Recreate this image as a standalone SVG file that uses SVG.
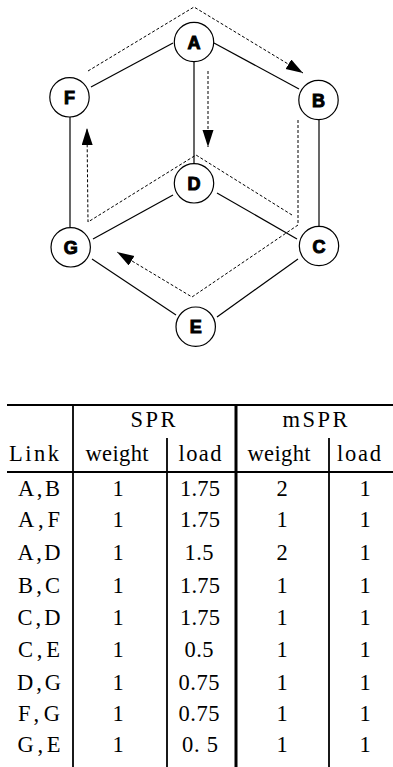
<svg xmlns="http://www.w3.org/2000/svg" width="393" height="767" viewBox="0 0 393 767">
<style>
.edge{stroke:#000;stroke-width:1.2;fill:none}
.dash{stroke:#000;stroke-width:1;fill:none;stroke-dasharray:3,2}
.node circle{fill:#fff;stroke:#000;stroke-width:1.2}
.node text{font-family:"Liberation Sans",Arial,sans-serif;font-weight:900;font-size:18px;fill:#000;stroke:#000;stroke-width:1;text-anchor:middle}
.t{font-family:"Liberation Serif","Times New Roman",serif;font-size:22.5px;fill:#000;text-anchor:middle}
.rule{stroke:#000;fill:none}
</style>
<defs>
<marker id="arr" markerUnits="userSpaceOnUse" markerWidth="18" markerHeight="12" refX="17" refY="5.5" orient="auto">
<path d="M0,0 L17,5.5 L0,11 z" fill="#000"/>
</marker>
</defs>
<rect width="393" height="767" fill="#fff"/>
<g id="connectors">
<line class="edge" x1="173" y1="43" x2="91" y2="87"/>
<line class="edge" x1="214" y1="43" x2="299" y2="89"/>
<line class="edge" x1="194" y1="62" x2="194" y2="163"/>
<line class="edge" x1="70" y1="117" x2="70" y2="227"/>
<line class="edge" x1="319" y1="120" x2="319" y2="226"/>
<line class="edge" x1="173" y1="195" x2="93" y2="239"/>
<line class="edge" x1="217" y1="193" x2="297" y2="239"/>
<line class="edge" x1="92" y1="259" x2="176" y2="315"/>
<line class="edge" x1="298" y1="259" x2="217" y2="317"/>
<path class="dash" d="M88,71 L194,7 L303,73" marker-end="url(#arr)"/>
<path class="dash" d="M208,71 L208,147" marker-end="url(#arr)"/>
<path class="dash" d="M292,215 L196,155 L88,222 L87,128" marker-end="url(#arr)"/>
<path class="dash" d="M298,120 L298,225 L192,297 L117,252" marker-end="url(#arr)"/>
</g>
<g id="node-A" class="node"><circle cx="194" cy="42" r="19.7"/><text x="194" y="48.5">A</text></g>
<g id="node-F" class="node"><circle cx="69.5" cy="97.3" r="19.7"/><text x="69.5" y="103.8">F</text></g>
<g id="node-B" class="node"><circle cx="318.5" cy="100" r="19.7"/><text x="318.5" y="106.5">B</text></g>
<g id="node-D" class="node"><circle cx="194" cy="183.3" r="19.7"/><text x="194" y="189.8">D</text></g>
<g id="node-G" class="node"><circle cx="70.7" cy="247.3" r="19.7"/><text x="70.7" y="253.8">G</text></g>
<g id="node-C" class="node"><circle cx="319" cy="246" r="19.7"/><text x="319" y="252.5">C</text></g>
<g id="node-E" class="node"><circle cx="195.7" cy="326.7" r="19.7"/><text x="195.7" y="333.2">E</text></g>
<g id="table">
<line class="rule" x1="7" y1="405" x2="393" y2="405" stroke-width="2"/>
<line class="rule" x1="7" y1="472" x2="393" y2="472" stroke-width="2"/>
<line class="rule" x1="73" y1="405" x2="73" y2="767" stroke-width="1.8"/>
<line class="rule" x1="167" y1="438" x2="167" y2="767" stroke-width="1.8"/>
<line class="rule" x1="236" y1="405" x2="236" y2="767" stroke-width="3"/>
<line class="rule" x1="329" y1="438" x2="329" y2="767" stroke-width="1.8"/>
<text class="t" x="153" y="427" textLength="45" lengthAdjust="spacing">SPR</text>
<text class="t" x="315" y="427" textLength="65" lengthAdjust="spacing">mSPR</text>
<text class="t" x="34" y="461" textLength="50" lengthAdjust="spacing">Link</text>
<text class="t" x="117" y="461" textLength="63" lengthAdjust="spacing">weight</text>
<text class="t" x="200" y="461" textLength="43" lengthAdjust="spacing">load</text>
<text class="t" x="279" y="461" textLength="63" lengthAdjust="spacing">weight</text>
<text class="t" x="359" y="461" textLength="44" lengthAdjust="spacing">load</text>
<g id="rows">
<text class="t" x="39" y="496" textLength="42" lengthAdjust="spacing">A,B</text><text class="t" x="118" y="496">1</text><text class="t" x="200" y="496" textLength="40" lengthAdjust="spacing">1.75</text><text class="t" x="282" y="496">2</text><text class="t" x="365" y="496">1</text>
<text class="t" x="39" y="527" textLength="42" lengthAdjust="spacing">A,F</text><text class="t" x="118" y="527">1</text><text class="t" x="200" y="527" textLength="40" lengthAdjust="spacing">1.75</text><text class="t" x="282" y="527">1</text><text class="t" x="365" y="527">1</text>
<text class="t" x="39" y="560" textLength="43" lengthAdjust="spacing">A,D</text><text class="t" x="118" y="560">1</text><text class="t" x="199" y="560" textLength="29" lengthAdjust="spacing">1.5</text><text class="t" x="282" y="560">2</text><text class="t" x="365" y="560">1</text>
<text class="t" x="39" y="593" textLength="42" lengthAdjust="spacing">B,C</text><text class="t" x="118" y="593">1</text><text class="t" x="200" y="593" textLength="40" lengthAdjust="spacing">1.75</text><text class="t" x="282" y="593">1</text><text class="t" x="365" y="593">1</text>
<text class="t" x="39" y="625" textLength="43" lengthAdjust="spacing">C,D</text><text class="t" x="118" y="625">1</text><text class="t" x="200" y="625" textLength="40" lengthAdjust="spacing">1.75</text><text class="t" x="282" y="625">1</text><text class="t" x="365" y="625">1</text>
<text class="t" x="39" y="657" textLength="42" lengthAdjust="spacing">C,E</text><text class="t" x="118" y="657">1</text><text class="t" x="199" y="657" textLength="29" lengthAdjust="spacing">0.5</text><text class="t" x="282" y="657">1</text><text class="t" x="365" y="657">1</text>
<text class="t" x="39" y="690" textLength="44" lengthAdjust="spacing">D,G</text><text class="t" x="118" y="690">1</text><text class="t" x="199" y="690" textLength="41" lengthAdjust="spacing">0.75</text><text class="t" x="282" y="690">1</text><text class="t" x="365" y="690">1</text>
<text class="t" x="39" y="721" textLength="42" lengthAdjust="spacing">F,G</text><text class="t" x="118" y="721">1</text><text class="t" x="199" y="721" textLength="41" lengthAdjust="spacing">0.75</text><text class="t" x="282" y="721">1</text><text class="t" x="365" y="721">1</text>
<text class="t" x="39" y="752" textLength="43" lengthAdjust="spacing">G,E</text><text class="t" x="118" y="752">1</text><text class="t" x="200" y="752" textLength="36" lengthAdjust="spacing" xml:space="preserve">0. 5</text><text class="t" x="282" y="752">1</text><text class="t" x="365" y="752">1</text>
</g>
</g>
</svg>
